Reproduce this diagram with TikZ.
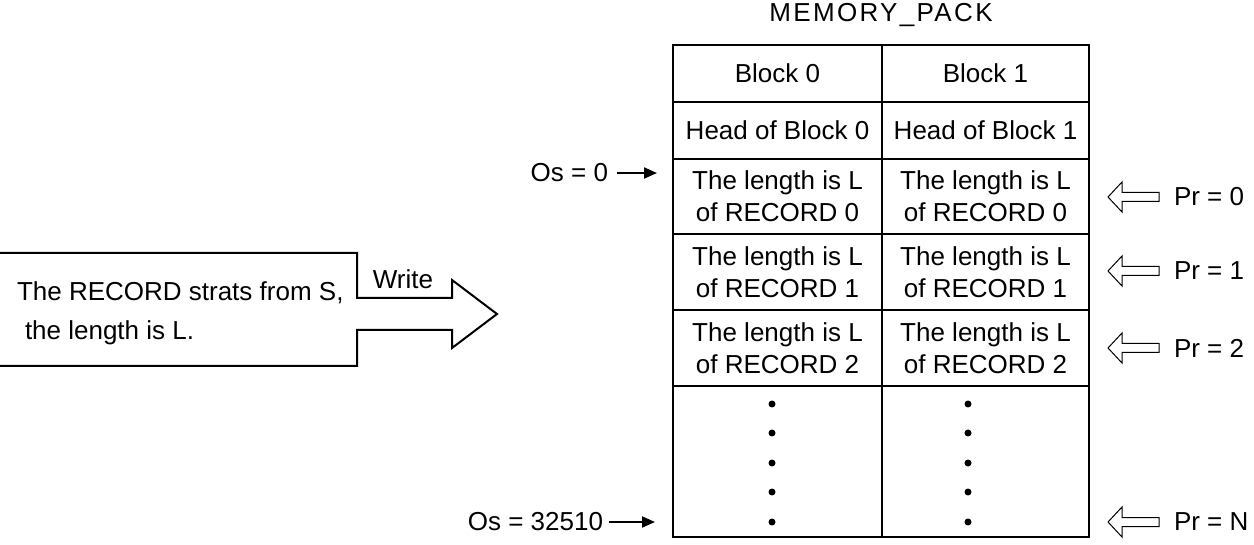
\documentclass[tikz,border=0pt]{standalone}
\usepackage{fontspec}
\setmainfont{Liberation Sans}
\usetikzlibrary{arrows.meta}
\begin{document}
\begin{tikzpicture}[x=1pt,y=-1pt,
  every node/.style={font=\fontsize{26}{32}\selectfont, inner sep=0pt, outer sep=0pt},
  cell/.style={draw, line width=2pt, align=center},
  colA/.style={minimum width=209pt},
  colB/.style={minimum width=207pt},
  shape line/.style={line width=2pt, line join=miter},
  osarrow/.style={line width=2pt, -{Triangle[length=13pt,width=11pt]}},
  dotmark/.style={circle, fill=black, minimum size=7pt},
  prarrow/.pic={\draw[line width=1pt, line join=miter] (0,0) -- (14,-15) -- (14,-4.5) -- (51,-4.5) -- (51,4.5) -- (14,4.5) -- (14,15) -- cycle;},
  lbl/.style={anchor=west}
]
\useasboundingbox (0,0) rectangle (1254,545);

% title
\node[font=\fontsize{26}{32}\selectfont\addfontfeature{LetterSpace=9}] (title) at (881,15) {MEMORY\_PACK};

% table
\node[cell,colA,minimum height=57pt] (b0) at (777.5,73.5) {Block 0};
\node[cell,colB,minimum height=57pt] (b1) at (985.5,73.5) {Block 1};
\node[cell,colA,minimum height=57pt] (h0) at (777.5,130.5) {Head of Block 0};
\node[cell,colB,minimum height=57pt] (h1) at (985.5,130.5) {Head of Block 1};
\node[cell,colA,minimum height=75pt] (r00) at (777.5,196.5) {The length is L\\of RECORD 0};
\node[cell,colB,minimum height=75pt] (r01) at (985.5,196.5) {The length is L\\of RECORD 0};
\node[cell,colA,minimum height=76pt] (r10) at (777.5,272) {The length is L\\of RECORD 1};
\node[cell,colB,minimum height=76pt] (r11) at (985.5,272) {The length is L\\of RECORD 1};
\node[cell,colA,minimum height=76pt] (r20) at (777.5,348) {The length is L\\of RECORD 2};
\node[cell,colB,minimum height=76pt] (r21) at (985.5,348) {The length is L\\of RECORD 2};
\node[cell,colA,minimum height=151pt] (d0) at (777.5,461.5) {};
\node[cell,colB,minimum height=151pt] (d1) at (985.5,461.5) {};

% dots
\foreach \i/\y in {1/404,2/433,3/463,4/492,5/522}{
  \node[dotmark] (da\i) at (772,\y) {};
  \node[dotmark] (db\i) at (968,\y) {};
}

% offsets
\node[anchor=east] (os0) at (608,173) {Os = 0};
\coordinate (os0t) at (657,173);
\draw[osarrow] ([xshift=9pt]os0.east) -- (os0t);
\node[anchor=east] (osn) at (603,522) {Os = 32510};
\coordinate (osnt) at (655,522);
\draw[osarrow] ([xshift=6pt]osn.east) -- (osnt);

% pointers
\foreach \n/\y/\t in {0/197/0,1/271/1,2/348/2,3/522/N}{
  \pic at (1108,\y) {prarrow};
  \node[lbl] (pr\n) at (1174,\y) {Pr = \t};
}

% write arrow shape
\draw[shape line] (-5,253) -- (357,253) -- (357,298) -- (452,298) -- (452,280) -- (497,314) -- (452,348) -- (452,330) -- (357,330) -- (357,366) -- (-5,366);
\node[anchor=west, align=left, font=\fontsize{26}{39}\selectfont] (rec) at (17,313) {The RECORD strats from S,\\\hspace*{8pt}the length is L.};
\node (write) at (403,279) {Write};
\end{tikzpicture}
\end{document}
